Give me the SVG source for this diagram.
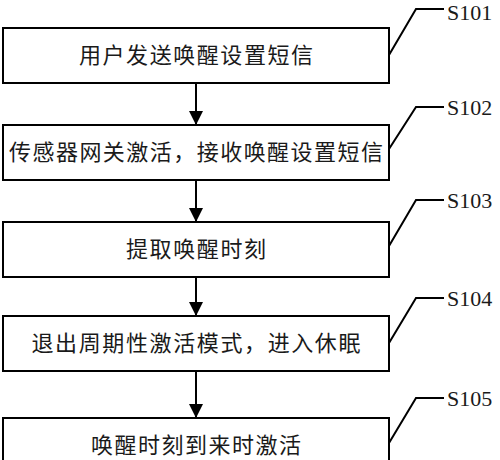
<svg xmlns="http://www.w3.org/2000/svg" width="500" height="460" viewBox="0 0 500 460">
<defs>
<marker id="ah" viewBox="0 0 14 14" refX="14" refY="7" markerWidth="14" markerHeight="14" markerUnits="userSpaceOnUse" orient="auto">
<path d="M0,0 L14,7 L0,14 Z" fill="#000"/>
</marker>
</defs>
<style>
.box{fill:#fff;stroke:#000;stroke-width:2}
.t{font-family:"Noto Sans CJK SC","Noto Sans",sans-serif;font-size:22px;fill:#1a1a1a;text-anchor:middle}
.lab{font-family:"Liberation Serif",serif;font-size:22px;fill:#1a1a1a}
.ld{fill:none;stroke:#000;stroke-width:2}
.ar{stroke:#000;stroke-width:2;fill:none}
</style>
<rect width="500" height="460" fill="#fff"/>
<g id="connectors">
<line class="ar" x1="196" y1="83" x2="196" y2="125" marker-end="url(#ah)"/>
<line class="ar" x1="196" y1="180" x2="196" y2="222" marker-end="url(#ah)"/>
<line class="ar" x1="196" y1="277" x2="196" y2="316" marker-end="url(#ah)"/>
<line class="ar" x1="196" y1="371" x2="196" y2="418" marker-end="url(#ah)"/>
</g>
<g id="S101">
<rect class="box" x="3" y="28" width="386" height="55"/>
<text class="t" x="196" y="63" textLength="234">用户发送唤醒设置短信</text>
<polyline class="ld" points="389,55 416,9 444,9"/>
<text class="lab" x="447" y="20">S101</text>
</g>
<g id="S102">
<rect class="box" x="3" y="125" width="386" height="55"/>
<text class="t" x="196" y="160" textLength="374">传感器网关激活，接收唤醒设置短信</text>
<polyline class="ld" points="389,149 416,107 444,107"/>
<text class="lab" x="447" y="115">S102</text>
</g>
<g id="S103">
<rect class="box" x="3" y="222" width="386" height="55"/>
<text class="t" x="196" y="257" textLength="140">提取唤醒时刻</text>
<polyline class="ld" points="389,246 416,200 444,200"/>
<text class="lab" x="447" y="208">S103</text>
</g>
<g id="S104">
<rect class="box" x="3" y="316" width="386" height="55"/>
<text class="t" x="196" y="351" textLength="329">退出周期性激活模式，进入休眠</text>
<polyline class="ld" points="389,343 416,298 444,298"/>
<text class="lab" x="447" y="306">S104</text>
</g>
<g id="S105">
<rect class="box" x="3" y="418" width="386" height="55"/>
<text class="t" x="196" y="453" textLength="210">唤醒时刻到来时激活</text>
<polyline class="ld" points="389,443 416,398 444,398"/>
<text class="lab" x="447" y="406">S105</text>
</g>
</svg>
